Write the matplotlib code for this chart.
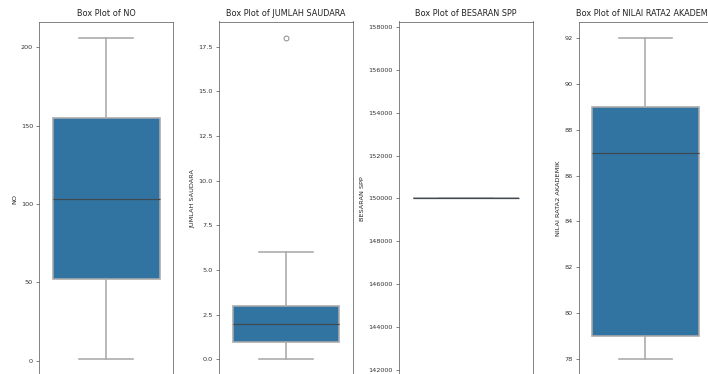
import matplotlib
matplotlib.use("Agg")
import matplotlib.pyplot as plt

# Data (box plot statistics)
variables = ["NO", "JUMLAH SAUDARA", "BESARAN SPP", "NILAI RATA2 AKADEMIK"]
whislo = [1, 0, 150000, 78]
q1 = [52.25, 1, 150000, 79]
med = [103.5, 2, 150000, 87]
q3 = [154.75, 3, 150000, 89]
whishi = [206, 6, 150000, 92]
fliers = [[], [18], [], []]

DPI = 64
W, H = 708, 374
fig = plt.figure(figsize=(W / DPI, H / DPI), dpi=DPI)

box_color = "#3274a1"
line_color = "#3f3f3f"
soft_line = "#a9a9a9"

lefts_px = [39.3, 219.2, 399.2, 578.6]
ax_w_px = 133.6
top_px = 21.5
bottom_px = 375.5

for i, name in enumerate(variables):
    ax = fig.add_axes([lefts_px[i] / W, (H - bottom_px) / H,
                       ax_w_px / W, (bottom_px - top_px) / H])
    stats = [dict(whislo=whislo[i], q1=q1[i], med=med[i], q3=q3[i],
                  whishi=whishi[i], fliers=fliers[i], label="")]
    ax.bxp(stats, positions=[0], widths=0.8, capwidths=0.4,
           patch_artist=True, showfliers=True,
           boxprops=dict(facecolor=box_color, edgecolor=soft_line, linewidth=1.8),
           medianprops=dict(color="#404850", linewidth=1.4),
           whiskerprops=dict(color=soft_line, linewidth=1.8),
           capprops=dict(color=soft_line, linewidth=1.8),
           flierprops=dict(marker="o", markerfacecolor="none",
                           markeredgecolor="#808080", markersize=5.5,
                           markeredgewidth=1.0))
    ax.set_xlim(-0.5, 0.5)
    ax.set_xticks([])
    for s in ax.spines.values():
        s.set_color("#555555")
    ax.set_title(f"Box Plot of {name}", fontsize=9.2, color="#222222")
    ax.set_ylabel(name, fontsize=7.3, color="#222222")
    ax.tick_params(axis="y", labelsize=7.3, labelcolor="#333333", color="#555555")

fig.savefig("out.png", dpi=DPI)
